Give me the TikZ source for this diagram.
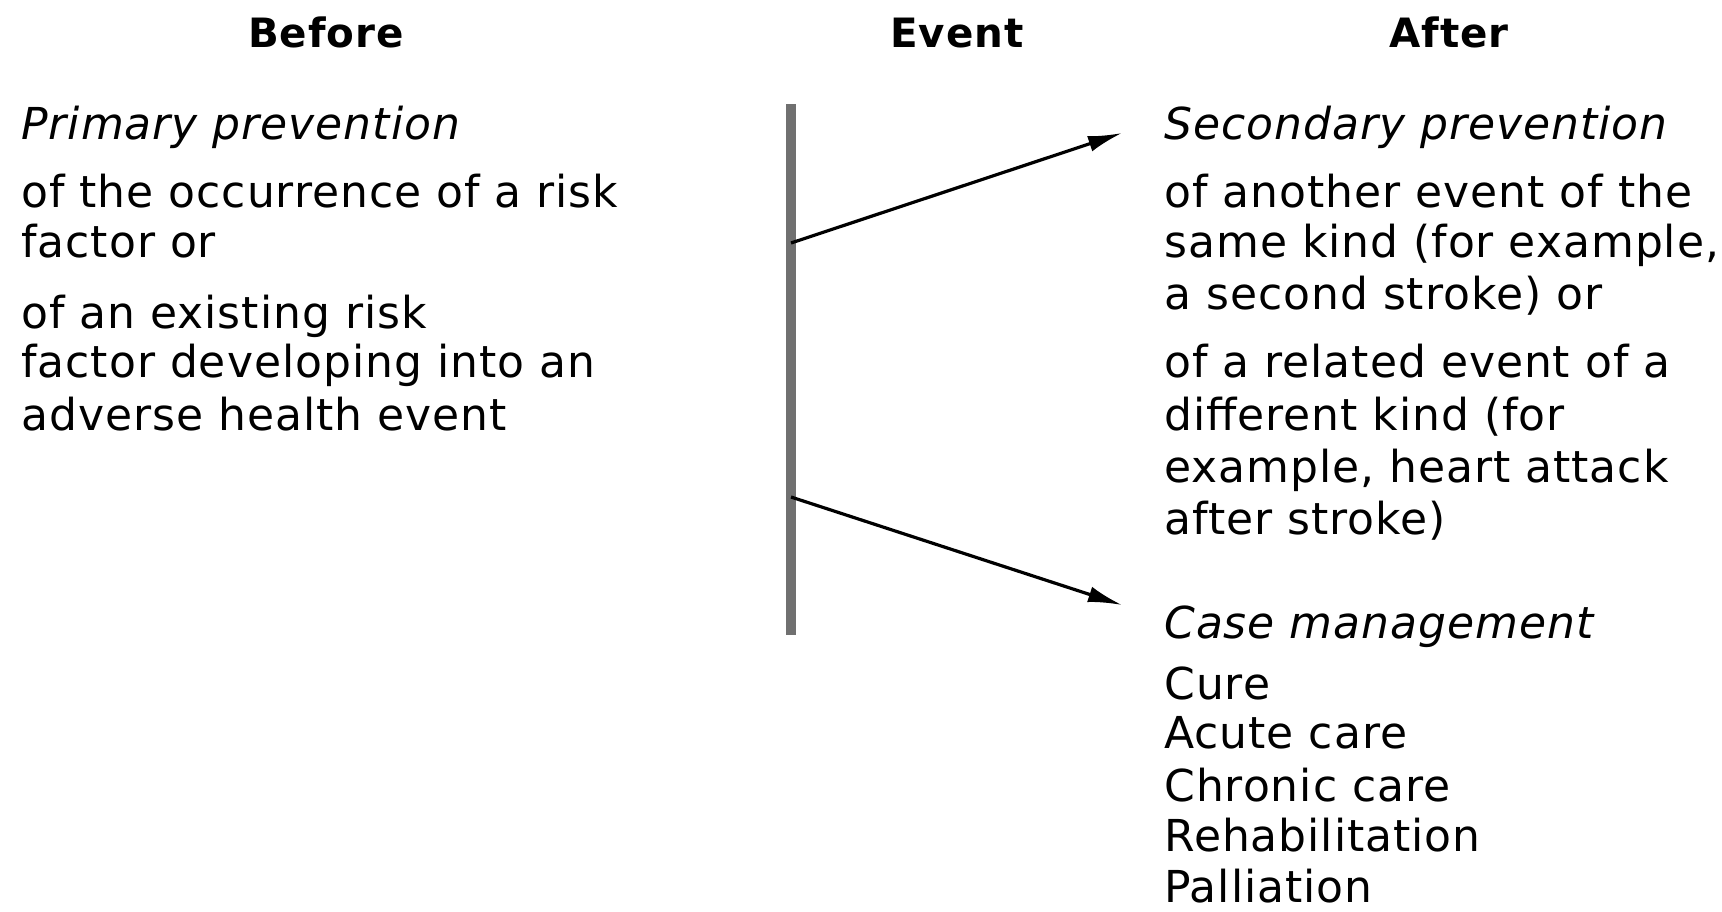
\documentclass[tikz,border=0pt]{standalone}
\usepackage{fontspec}
\setmainfont{DejaVu Sans}[LetterSpace=2.2]
\usetikzlibrary{arrows.meta}
\definecolor{linegray}{RGB}{112,112,112}
\begin{document}
\begin{tikzpicture}[x=0.5pt,y=-0.5pt,
  txt/.style={anchor=base west, inner sep=0pt, font=\fontsize{22}{26}\selectfont},
  ital/.style={txt, font=\fontsize{22}{26}\selectfont\itshape},
  head/.style={anchor=base, inner sep=0pt, font=\fontsize{20.2}{24}\selectfont\bfseries},
  eventline/.style={draw=linegray, line width=5pt},
  conn/.style={draw=black, line width=1.6pt, -{Latex[length=17pt,width=8pt]}}]
\useasboundingbox (0,0) rectangle (1722,911);

% headers
\node[head] (hbefore) at (326,47) {Before};
\node[head] (hevent) at (957,47) {Event};
\node[head] (hafter) at (1449,47) {After};

% left column
\node[ital] (pp) at (21,139) {Primary prevention};
\node[txt] (l1) at (21,207) {of the occurrence of a risk};
\node[txt] (l2) at (21,257) {factor or};
\node[txt] (l3) at (21,328) {of an existing risk};
\node[txt] (l4) at (21,377) {factor developing into an};
\node[txt] (l5) at (21,430) {adverse health event};

% right column
\node[ital] (sp) at (1164,139) {Secondary prevention};
\node[txt] (r1) at (1164,207) {of another event of the};
\node[txt] (r2) at (1164,257) {same kind (for example,};
\node[txt] (r3) at (1164,309) {a second stroke) or};
\node[txt] (r4) at (1164,377) {of a related event of a};
\node[txt] (r5) at (1164,430) {different kind (for};
\node[txt] (r6) at (1164,482) {example, heart attack};
\node[txt] (r7) at (1164,534) {after stroke)};

\node[ital] (cm) at (1164,638) {Case management};
\node[txt] (c1) at (1164,699) {Cure};
\node[txt] (c2) at (1164,748) {Acute care};
\node[txt] (c3) at (1164,801) {Chronic care};
\node[txt] (c4) at (1164,851) {Rehabilitation};
\node[txt] (c5) at (1164,902) {Palliation};

% event line
\coordinate (evtop) at (791,104);
\coordinate (evbot) at (791,635);
\draw[eventline] (evtop) -- (evbot);

% arrows
\coordinate (a1s) at (791,243);
\coordinate (a1e) at (1122,133);
\coordinate (a2s) at (791,497);
\coordinate (a2e) at (1122,605);
\draw[conn] (a1s) -- (a1e);
\draw[conn] (a2s) -- (a2e);
\end{tikzpicture}
\end{document}
